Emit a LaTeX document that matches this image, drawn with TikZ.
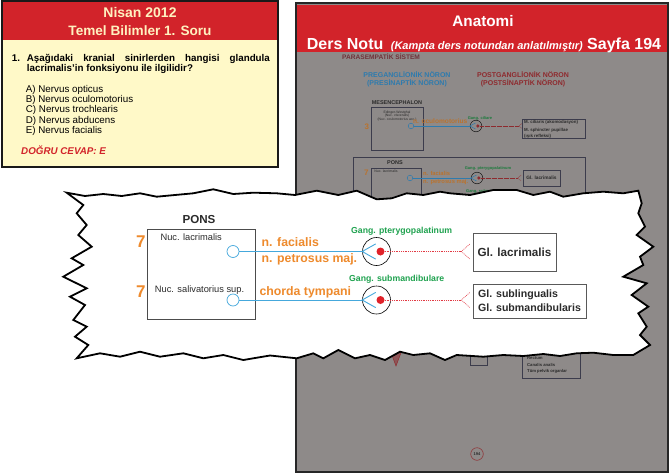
\documentclass[tikz,border=0pt]{standalone}
\usepackage{fontspec}
\setmainfont{Liberation Sans}
\usetikzlibrary{positioning,calc}

\definecolor{hdrred}{HTML}{D2232A}
\definecolor{qfill}{HTML}{FFF9C8}
\definecolor{qtitle}{HTML}{FFF1C0}
\definecolor{pagegray}{HTML}{8E8A89}
\definecolor{nvorange}{HTML}{EE8A2C}
\definecolor{ggreen}{HTML}{1FA24F}
\definecolor{nvblue}{HTML}{45A8DC}
\definecolor{dotred}{HTML}{E23A44}
\definecolor{corered}{HTML}{E0222A}
\definecolor{txtdark}{HTML}{2B2B2B}
% faded colours of the page underneath
\definecolor{pgbrown}{HTML}{70323A}
\definecolor{pgblue}{HTML}{2E7BAE}
\definecolor{pgred}{HTML}{8E2A2E}
\definecolor{pgorange}{HTML}{B9732F}
\definecolor{pggreen}{HTML}{1C7A3C}
\definecolor{pgline}{HTML}{3C3C4C}

\newcommand{\fsz}[2]{\fontsize{#1}{#2}\selectfont}

\begin{document}
\begin{tikzpicture}[x=1pt, y=-1pt,
    lbl/.style={inner sep=0, anchor=base},
    lblw/.style={inner sep=0, anchor=base west},
    nucdot/.style={circle, draw=nvblue, fill=white, line width=0.7pt, minimum size=12, inner sep=0},
    ganglion/.style={circle, draw=black, fill=white, line width=0.6pt, minimum size=28, inner sep=0},
    syncore/.style={circle, fill=corered, minimum size=8, inner sep=0},
    nerve/.style={draw=nvblue, line width=0.9pt},
    synapse/.style={draw=dotred, line width=0.6pt, dash pattern=on 0.9pt off 0.9pt},
    glandbox/.style={draw=black!65, line width=0.7pt, fill=white, inner sep=0, text=txtdark},
    pgnuc/.style={circle, draw=pgblue, line width=0.5pt, minimum size=5.6, inner sep=0},
    pgganglion/.style={circle, draw=black!90, line width=0.5pt, minimum size=11.6, inner sep=0},
    pgcore/.style={circle, fill=pgred, minimum size=3.6, inner sep=0},
    pgnerve/.style={draw=pgblue, line width=0.5pt},
    pgsynapse/.style={draw=pgred, line width=0.4pt, dash pattern=on 0.6pt off 0.6pt},
    pgbox/.style={draw=pgline, line width=0.6pt, inner sep=0, text=txtdark}]
    \useasboundingbox (0,0) rectangle (670,474);

    % Question card
    \fill[qfill] (2,1) rectangle (278,167);
    \fill[hdrred] (2,1) rectangle (278,39.5);
    \draw[line width=1.8pt, draw=black!90] (2,1) rectangle (278,167);
    \node[lbl, text=qtitle, font=\bfseries\fsz{14}{14}] (qyear) at (140,17.3) {Nisan 2012};
    \node[lbl, text=qtitle, font=\bfseries\fsz{13.6}{14}] (qsub) at (140,35.3) {Temel Bilimler 1. Soru};
    \node[lblw, font=\bfseries\fsz{9.8}{10}] (qnum) at (11.7,61.7) {1.};
    \node[lblw, font=\bfseries\fsz{9.8}{10}] (qline1) at (26.7,61.7)
        {\makebox[243pt][s]{Aşağıdaki kranial sinirlerden hangisi glandula}};
    \node[lblw, font=\bfseries\fsz{9.8}{10}] (qline2) at (26.7,71.7) {lacrimalis'in fonksiyonu ile ilgilidir?};
    \foreach \opt [count=\i] in {A) Nervus opticus, B) Nervus oculomotorius, C) Nervus trochlearis, D) Nervus abducens, E) Nervus facialis}
        \node[lblw, font=\fsz{9.8}{10}] (opt\i) at (25.7, 82.2+10.2*\i) {\opt};
    \node[lblw, text=hdrred, font=\bfseries\itshape\fsz{9.8}{10}] (answer) at (21,154) {DOĞRU CEVAP: E};

    % Lecture page
    \draw[fill=pagegray, draw=black!85, line width=1.2pt] (296,3) rectangle (668,472);
    \fill[hdrred] (296.6,4.5) rectangle (667.4,52);
    \node[lbl, text=white, font=\bfseries\fsz{15.3}{16}] (anat) at (483,26.7) {Anatomi};
    \node[lbl, text=white, font=\bfseries\fsz{16}{16}] (notes) at (484,49.3)
        {Ders Notu {\itshape\fsz{11}{11} (Kampta ders notundan anlatılmıştır)} Sayfa 194};
    \node[lblw, text=pgbrown, font=\bfseries\fsz{6.6}{7}] (pgtitle) at (342,59.5) {PARASEMPATİK SİSTEM};
    \node[lbl, text=pgblue, font=\bfseries\fsz{7}{8}] (pgpre) at (407,77.5) {PREGANGLİONİK NÖRON};
    \node[lbl, text=pgblue, font=\bfseries\fsz{7}{8}] (pgpre2) at (407,85.5) {(PRESİNAPTİK NÖRON)};
    \node[lbl, text=pgred, font=\bfseries\fsz{7}{8}] (pgpost) at (523,77.5) {POSTGANGLİONİK NÖRON};
    \node[lbl, text=pgred, font=\bfseries\fsz{7}{8}] (pgpost2) at (523,85.5) {(POSTSİNAPTİK NÖRON)};

    % page: mesencephalon row
    \node[lbl, text=txtdark, font=\bfseries\fsz{5.5}{6}] (pgmes) at (397,104) {MESENCEPHALON};
    \draw[pgline, line width=0.6pt] (371,107) rectangle (423,150);
    \node[lbl, text=txtdark, font=\fsz{3.4}{4}] (pgew1) at (397,113) {Edinger-Westphal};
    \node[lbl, text=txtdark, font=\fsz{3.4}{4}] (pgew2) at (397,116.5) {(Nuc. visceralis)};
    \node[lbl, text=txtdark, font=\fsz{3.4}{4}] (pgew3) at (397,120) {(Nuc. oculomotorius acc.)};
    \node[lblw, text=pgorange, font=\bfseries\fsz{8}{8}] (pg3) at (364.5,129.5) {3};
    \node[pgnuc] (pgnucew) at (411,126) {};
    \node[pgganglion] (pgggcil) at (476,126) {};
    \draw[pgnerve] (pgnucew.east) -- (pgggcil.west);
    \draw[pgnerve] ($(pgggcil.west)+(5.5,-3)$) -- (pgggcil.west) -- ($(pgggcil.west)+(5.5,3)$);
    \node[pgcore] (pgcilcore) at (477.8,126) {};
    \coordinate (pgciltip) at (519,126);
    \draw[pgsynapse] (pgcilcore) -- (pgciltip);
    \draw[pgsynapse] ($(pgciltip)+(3.5,-3)$) -- (pgciltip) -- ($(pgciltip)+(3.5,3)$);
    \node[lblw, text=pgorange, font=\bfseries\fsz{6.6}{7}] (pgocul) at (413,123) {n. oculomotorius};
    \node[lbl, text=pggreen, font=\bfseries\fsz{4}{4}] (pgcil) at (480,119.5) {Gang. ciliare};
    \draw[pgline, line width=0.6pt] (522,119) rectangle (585,138.3);
    \node[lblw, text=txtdark, font=\bfseries\fsz{4.4}{5}] (pgmcil) at (524,123.8) {M. ciliaris (akomodasyon)};
    \node[lblw, text=txtdark, font=\bfseries\fsz{4.4}{5}] (pgmsph) at (524,131.5) {M. sphincter pupillae};
    \node[lblw, text=txtdark, font=\bfseries\fsz{4.4}{5}] (pgisik) at (524,137) {(ışık refleksi)};

    % page: pons row
    \draw[pgline, line width=0.6pt] (353,157) rectangle (585,262);
    \node[lbl, text=txtdark, font=\bfseries\fsz{5.5}{6}] (pgpons) at (395,164.5) {PONS};
    \node[lblw, text=pgorange, font=\bfseries\fsz{8}{8}] (pg7) at (364,175.5) {7};
    \draw[pgline, line width=0.6pt] (371,168) rectangle (421,240);
    \node[lbl, text=txtdark, font=\fsz{3.5}{4}] (pgnuclab) at (386,172.5) {Nuc. lacrimalis};
    \node[pgnuc] (pgnuclac) at (410,178) {};
    \node[pgganglion] (pgggpt) at (477,178) {};
    \draw[pgnerve] (pgnuclac.east) -- (pgggpt.west);
    \draw[pgnerve] ($(pgggpt.west)+(5.5,-3)$) -- (pgggpt.west) -- ($(pgggpt.west)+(5.5,3)$);
    \node[pgcore] (pgptcore) at (478.8,178) {};
    \node[pgbox, minimum width=37, minimum height=16, font=\bfseries\fsz{4.8}{5}] (pggllac) at (541.5,178) {Gl. lacrimalis};
    \coordinate (pgpttip) at ($(pggllac.west)+(-5,0)$);
    \draw[pgsynapse] (pgptcore) -- (pgpttip);
    \draw[pgsynapse] ($(pgpttip)+(3.5,-3)$) -- (pgpttip) -- ($(pgpttip)+(3.5,3)$);
    \node[lblw, text=pgorange, font=\bfseries\fsz{5.8}{6}] (pgfac) at (423,175.5) {n. facialis};
    \node[lblw, text=pgorange, font=\bfseries\fsz{5.8}{6}] (pgpet) at (423,183.5) {n. petrosus maj.};
    \node[lbl, text=pggreen, font=\bfseries\fsz{4}{4}] (pgpt) at (488,169.5) {Gang. pterygopalatinum};
    \node[lbl, text=pggreen, font=\bfseries\fsz{4}{4}] (pgsub) at (488,192) {Gang. submandibulare};

    % page: below the callout
    \draw[pgred, line width=0.5pt, fill=pgred!55!pagegray] (390,350) -- (402,350) -- (396,366) -- cycle;
    \draw[pgline, line width=0.6pt] (470,340) rectangle (487,365);
    \draw[pgline, line width=0.6pt] (522,330) rectangle (580,378);
    \node[lblw, text=txtdark, font=\bfseries\fsz{4.2}{5}] (pgrect) at (527,359) {Rectum};
    \node[lblw, text=txtdark, font=\bfseries\fsz{4.2}{5}] (pganal) at (527,366.5) {Canalis analis};
    \node[lblw, text=txtdark, font=\bfseries\fsz{4.2}{5}] (pgpelv) at (527,372.5) {Tüm pelvik organlar};
    \node[circle, draw=pgred, line width=0.5pt, minimum size=12.6, inner sep=0, text=txtdark,
        font=\bfseries\fsz{4}{4}] (pgnum) at (477,454) {194};

    % Zoomed callout
    \draw[line width=1.8pt, fill=white, line join=miter]
        (66.7,192.7) -- (85,196) -- (103.3,194) -- (121.7,196) -- (140,193.3) -- (156.7,196.7)
        -- (175,195) -- (193.3,193.3) -- (213.3,189.3) -- (233.3,194) -- (253.3,192.7) -- (276.7,193.3)
        -- (295,195) -- (316.7,190.7) -- (338.3,195) -- (356.7,190.7) -- (376.7,199.3) -- (391.7,198.3)
        -- (406.7,193.3) -- (423.3,195) -- (440,191.7) -- (450,193.3) -- (470,195) -- (493.3,190)
        -- (516.7,190) -- (533.3,195) -- (550,191.7) -- (563.3,196.7) -- (583.3,193.3) -- (603.3,191.7)
        -- (623.3,193.3) -- (638.3,190.7)
        -- (641.7,203.3) -- (638.3,213.3) -- (645,226.7) -- (636.7,235) -- (653.3,246.7) -- (640,256.7)
        -- (643.3,265) -- (623.3,276.7) -- (646.7,283.3) -- (631.7,295) -- (648.3,306.7) -- (638.3,313.3)
        -- (646.7,326.7) -- (640,335) -- (650,345)
        -- (633.3,355) -- (613.3,355) -- (593.3,352.7) -- (576.7,353.3) -- (560,356) -- (543.3,354)
        -- (523.3,356) -- (503.3,355) -- (483.3,356.7) -- (456.7,355) -- (445,360) -- (430,353.3)
        -- (413.3,355) -- (400,351.7) -- (385,360) -- (370,355) -- (355,358.3) -- (338.3,350)
        -- (323.3,358.3) -- (313.3,353.3) -- (296.7,358.3) -- (270,355.5) -- (243.3,360) -- (223.3,355)
        -- (203.3,358.3) -- (183.3,353.3) -- (160,356.7) -- (140,351.7) -- (120,356.7) -- (100,353.3)
        -- (76.7,358.3)
        -- (88.3,345) -- (75,336.7) -- (86.7,326.7) -- (73.3,320) -- (85,305) -- (70,296.7)
        -- (86.7,288.3) -- (63.3,276.7) -- (83.3,265) -- (71.7,258.3) -- (91.7,246.7) -- (78.3,235)
        -- (86.7,225) -- (76.7,213.3) -- (83.3,205) -- cycle;

    % callout: pons nuclei
    \node[lbl, text=txtdark, font=\bfseries\fsz{11.6}{12}] (pons) at (199,223.3) {PONS};
    \draw[draw=black!70, line width=0.7pt] (147,229) rectangle (255,319);
    \node[lblw, text=nvorange, font=\bfseries\fsz{17}{17}] (seven1) at (136,247.7) {7};
    \node[lblw, text=nvorange, font=\bfseries\fsz{17}{17}] (seven2) at (136,297.3) {7};
    \node[lbl, text=txtdark, font=\fsz{9.3}{10}] (labnuclac) at (191.2,240.7) {Nuc. lacrimalis};
    \node[lbl, text=txtdark, font=\fsz{9.3}{10}] (labnucsal) at (199.5,292.3) {Nuc. salivatorius sup.};
    \node[nucdot] (nuclac) at (233,251.5) {};
    \node[nucdot] (nucsal) at (233,300) {};

    % callout: ganglia and glands
    \node[ganglion] (ggpt) at (376.5,251.5) {};
    \node[ganglion] (ggsub) at (376.5,300) {};
    \node[glandbox, minimum width=83, minimum height=38, font=\bfseries\fsz{11.7}{12}] (gllac) at (514.5,252) {Gl. lacrimalis};
    \node[glandbox, minimum width=113, minimum height=34, align=left, font=\bfseries\fsz{10.6}{14}] (glsub) at (529.5,301)
        {Gl. sublingualis\\Gl. submandibularis};
    \coordinate (lactip) at ($(gllac.west)+(-11.3,-0.5)$);
    \coordinate (subtip) at ($(glsub.west)+(-11.3,-1)$);

    % preganglionic fibres
    \draw[nerve] (nuclac.east) -- (ggpt.west);
    \draw[nerve] ($(ggpt.west)+(13.5,-7.6)$) -- (ggpt.west) -- ($(ggpt.west)+(13.5,7.6)$);
    \draw[nerve] (nucsal.east) -- (ggsub.west);
    \draw[nerve] ($(ggsub.west)+(13.5,-7.6)$) -- (ggsub.west) -- ($(ggsub.west)+(13.5,7.6)$);
    \node[syncore] (ptcore) at (380.5,251.5) {};
    \node[syncore] (subcore) at (380.5,300) {};

    % postganglionic fibres
    \draw[synapse] (ptcore.east) -- (lactip);
    \draw[synapse] ($(lactip)+(8.3,-7.4)$) -- (lactip) -- ($(lactip)+(8.3,7.4)$);
    \draw[synapse] (subcore.east) -- (subtip);
    \draw[synapse] ($(subtip)+(8.3,-7.4)$) -- (subtip) -- ($(subtip)+(8.3,7.4)$);

    % nerve and ganglion names
    \node[lblw, text=nvorange, font=\bfseries\fsz{12.3}{13}] (nfac) at (261.5,246.7) {n. facialis};
    \node[lblw, text=nvorange, font=\bfseries\fsz{12.3}{13}] (npet) at (261.5,262.7) {n. petrosus maj.};
    \node[lblw, text=nvorange, font=\bfseries\fsz{12.3}{13}] (chorda) at (259.3,295.5) {chorda tympani};
    \node[lblw, text=ggreen, font=\bfseries\fsz{8.7}{9}] (gpt) at (351,233.3) {Gang. pterygopalatinum};
    \node[lblw, text=ggreen, font=\bfseries\fsz{8.7}{9}] (gsub) at (349,281.7) {Gang. submandibulare};
\end{tikzpicture}
\end{document}
